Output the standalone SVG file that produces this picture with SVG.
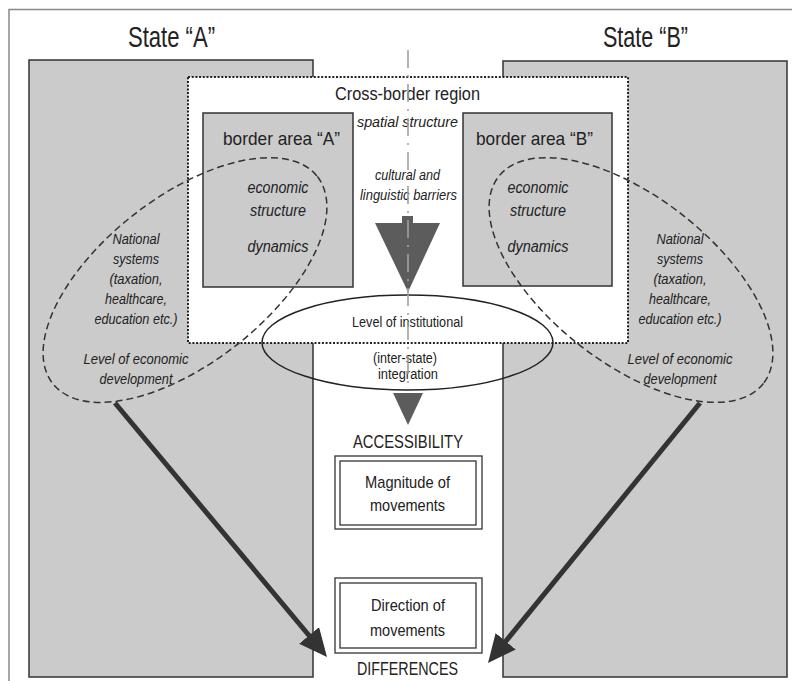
<svg xmlns="http://www.w3.org/2000/svg" width="792" height="681" viewBox="0 0 792 681">
<defs>
<style>
text{font-family:"Liberation Sans",Arial,sans-serif;fill:#222;text-anchor:middle}
.it{font-style:italic}
.box{fill:#cbcbcb;stroke:#333;stroke-width:1.5}
.dash{fill:none;stroke:#333;stroke-width:1.5;stroke-dasharray:7 4}
.tri{fill:#5c5c5c}
.arr{fill:none;stroke:#333;stroke-width:5}
.frame{fill:#fff;stroke:#333;stroke-width:1.5}
</style>
<marker id="ah" markerUnits="userSpaceOnUse" markerWidth="28" markerHeight="26" refX="13" refY="13" orient="auto">
<path d="M0,0 L28,13 L0,26 z" fill="#333"/>
</marker>
</defs>
<rect width="792" height="681" fill="#fff"/>
<path d="M9,681 V9.5 H792" fill="none" stroke="#888" stroke-width="1.5"/>

<g id="stateA">
<rect class="box" x="29" y="60" width="284" height="617"/>
<text x="171.5" y="47" font-size="30" textLength="87" lengthAdjust="spacingAndGlyphs">State “A”</text>
</g>
<g id="stateB">
<rect class="box" x="503" y="61" width="284" height="616"/>
<text x="645.5" y="47" font-size="30" textLength="85" lengthAdjust="spacingAndGlyphs">State “B”</text>
</g>

<g id="crossBorder">
<rect x="188" y="77" width="440" height="266" fill="#fff" stroke="#222" stroke-width="2" stroke-dasharray="2 1.7"/>
<text x="407.5" y="100" font-size="18" textLength="145" lengthAdjust="spacingAndGlyphs">Cross-border region</text>
<text class="it" x="407.5" y="127" font-size="15" textLength="101" lengthAdjust="spacingAndGlyphs">spatial structure</text>
<text class="it" x="407.5" y="180" font-size="15" textLength="65" lengthAdjust="spacingAndGlyphs">cultural and</text>
<text class="it" x="408.5" y="200" font-size="15" textLength="97" lengthAdjust="spacingAndGlyphs">linguistic barriers</text>
</g>

<g id="borderA">
<rect class="box" x="203" y="113" width="150" height="174"/>
<text x="281.5" y="145" font-size="19" textLength="117" lengthAdjust="spacingAndGlyphs">border area “A”</text>
<text class="it" x="278" y="193" font-size="16" textLength="61" lengthAdjust="spacingAndGlyphs">economic</text>
<text class="it" x="278" y="216" font-size="16" textLength="56" lengthAdjust="spacingAndGlyphs">structure</text>
<text class="it" x="278" y="252" font-size="16" textLength="61" lengthAdjust="spacingAndGlyphs">dynamics</text>
</g>
<g id="borderB">
<rect class="box" x="463" y="113" width="149" height="173"/>
<text x="534.5" y="145" font-size="19" textLength="117" lengthAdjust="spacingAndGlyphs">border area “B”</text>
<text class="it" x="538" y="193" font-size="16" textLength="61" lengthAdjust="spacingAndGlyphs">economic</text>
<text class="it" x="538" y="216" font-size="16" textLength="56" lengthAdjust="spacingAndGlyphs">structure</text>
<text class="it" x="538" y="252" font-size="16" textLength="61" lengthAdjust="spacingAndGlyphs">dynamics</text>
</g>

<g id="nationalA">
<ellipse class="dash" cx="185" cy="280" rx="168" ry="83" transform="rotate(-38 185 280)"/>
<text class="it" x="136" y="244" font-size="15" textLength="47" lengthAdjust="spacingAndGlyphs">National</text>
<text class="it" x="136" y="264" font-size="15" textLength="46" lengthAdjust="spacingAndGlyphs">systems</text>
<text class="it" x="136" y="284" font-size="15" textLength="53" lengthAdjust="spacingAndGlyphs">(taxation,</text>
<text class="it" x="136" y="304" font-size="15" textLength="62" lengthAdjust="spacingAndGlyphs">healthcare,</text>
<text class="it" x="136" y="324" font-size="15" textLength="83" lengthAdjust="spacingAndGlyphs">education etc.)</text>
<text class="it" x="136" y="364" font-size="15" textLength="105" lengthAdjust="spacingAndGlyphs">Level of economic</text>
<text class="it" x="136" y="384" font-size="15" textLength="73" lengthAdjust="spacingAndGlyphs">development</text>
</g>
<g id="nationalB">
<ellipse class="dash" cx="631" cy="280" rx="168" ry="83" transform="rotate(38 631 280)"/>
<text class="it" x="680" y="244" font-size="15" textLength="47" lengthAdjust="spacingAndGlyphs">National</text>
<text class="it" x="680" y="264" font-size="15" textLength="46" lengthAdjust="spacingAndGlyphs">systems</text>
<text class="it" x="680" y="284" font-size="15" textLength="53" lengthAdjust="spacingAndGlyphs">(taxation,</text>
<text class="it" x="680" y="304" font-size="15" textLength="62" lengthAdjust="spacingAndGlyphs">healthcare,</text>
<text class="it" x="680" y="324" font-size="15" textLength="83" lengthAdjust="spacingAndGlyphs">education etc.)</text>
<text class="it" x="680" y="364" font-size="15" textLength="105" lengthAdjust="spacingAndGlyphs">Level of economic</text>
<text class="it" x="680" y="384" font-size="15" textLength="73" lengthAdjust="spacingAndGlyphs">development</text>
</g>

<g id="barrier">
<polygon class="tri" points="375,223 402,223 402,216 413,216 413,223 440,223 408,292"/>
</g>

<g id="integration">
<ellipse cx="407.5" cy="342.5" rx="145.5" ry="47.5" fill="none" stroke="#222" stroke-width="1.5"/>
<text x="407.5" y="327" font-size="14" textLength="111" lengthAdjust="spacingAndGlyphs">Level of institutional</text>
<text x="405" y="363" font-size="14" textLength="64" lengthAdjust="spacingAndGlyphs">(inter-state)</text>
<text x="408" y="379" font-size="14" textLength="60" lengthAdjust="spacingAndGlyphs">integration</text>
</g>

<g id="axis">
<line x1="408" y1="50" x2="408" y2="386" stroke="#a0a0a0" stroke-width="1.6" stroke-dasharray="18 7 2 7"/>
</g>

<g id="accessibility">
<polygon class="tri" points="393,393 423,393 408,425"/>
<text x="408" y="448" font-size="18" textLength="110" lengthAdjust="spacingAndGlyphs">ACCESSIBILITY</text>
</g>

<g id="magnitude">
<rect x="335" y="456" width="147" height="73" fill="#fff" stroke="#333" stroke-width="1.3"/>
<rect x="340" y="461" width="136" height="64" fill="none" stroke="#333" stroke-width="1.3"/>
<text x="407.5" y="488" font-size="17" textLength="85" lengthAdjust="spacingAndGlyphs">Magnitude of</text>
<text x="407.5" y="511" font-size="17" textLength="75" lengthAdjust="spacingAndGlyphs">movements</text>
</g>

<g id="direction">
<rect x="335" y="578" width="147" height="75" fill="#fff" stroke="#333" stroke-width="1.3"/>
<rect x="340" y="583" width="136" height="65" fill="none" stroke="#333" stroke-width="1.3"/>
<text x="408" y="611" font-size="17" textLength="74" lengthAdjust="spacingAndGlyphs">Direction of</text>
<text x="407.5" y="636" font-size="17" textLength="75" lengthAdjust="spacingAndGlyphs">movements</text>
</g>

<g id="differences">
<text x="407.5" y="675" font-size="18" textLength="101" lengthAdjust="spacingAndGlyphs">DIFFERENCES</text>
</g>

<g id="connectors">
<line class="arr" x1="115" y1="403" x2="317.4" y2="645.5" marker-end="url(#ah)"/>
<line class="arr" x1="700" y1="403" x2="497.5" y2="651.4" marker-end="url(#ah)"/>
</g>
</svg>
